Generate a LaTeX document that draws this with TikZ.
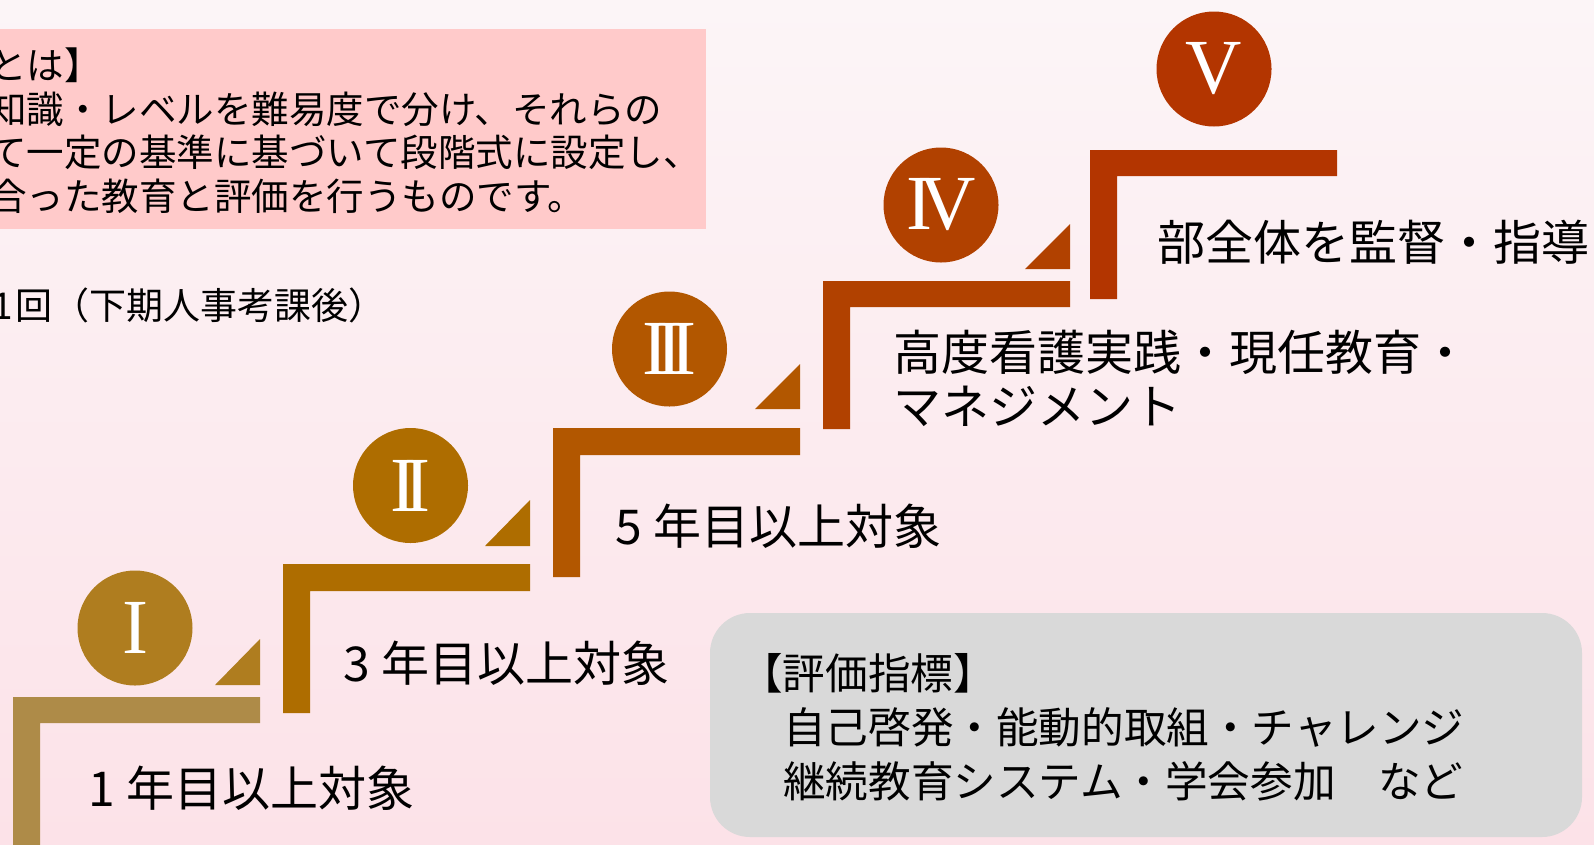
\documentclass[tikz,border=0pt]{standalone}
\usepackage{fontspec}
\setmainfont{Liberation Serif}
\newfontfamily\jpfont{Noto Sans CJK JP}
\usetikzlibrary{positioning,shapes}

\definecolor{bgtop}{HTML}{FCF5F7}
\definecolor{bgbot}{HTML}{FCE2E8}
\definecolor{noteback}{HTML}{FFCACA}
\definecolor{gradeback}{HTML}{D9D9D9}
\definecolor{lvlonebar}{HTML}{AE8B48}
\definecolor{lvlone}{HTML}{AF7D1F}
\definecolor{lvltwo}{HTML}{AE6D00}
\definecolor{lvlthree}{HTML}{B25700}
\definecolor{lvlfour}{HTML}{B14100}
\definecolor{lvlfive}{HTML}{B33500}

\begin{document}
\begin{tikzpicture}[x=1pt,y=-1pt,
  lvlmark/.style={circle,fill=#1,text=white,minimum size=115pt,inner sep=0pt,
    font=\fontsize{78}{80}\selectfont},
  steptext/.style={anchor=west,inner sep=0pt,align=left,
    font=\jpfont\fontsize{48}{54}\selectfont}]
\useasboundingbox (0,0) rectangle (1594,844);
\shade[top color=bgtop,bottom color=bgbot] (0,0) rectangle (1594,844);

% note at top left
\fill[noteback] (-5,29) rectangle (706,229);
\node (about) [anchor=west,inner sep=0pt,align=left,
  font=\jpfont\fontsize{37.5}{43.5}\selectfont] at (-11,130.5)
  {とは】\\知識・レベルを難易度で分け、それらの\\て一定の基準に基づいて段階式に設定し、\\合った教育と評価を行うものです。};
\node (when) [anchor=west,inner sep=0pt,font=\jpfont\fontsize{37}{43}\selectfont]
  at (-8,305) {1\kern3pt 回（下期人事考課後）};

% step I
\fill[lvlonebar] (13,697) -- (260,697) -- (260,723) -- (40,723) -- (40,850) -- (13,850) -- cycle;
\fill[lvlone] (215,685) -- (260,685) -- (260,639) -- cycle;
\node (one) [lvlmark=lvlone] at (135,628) {I};
\node (t1) [steptext] at (88,788) {1\kern.25em 年目以上対象};

% step II
\fill[lvltwo] (283,564) -- (530,564) -- (530,591) -- (310,591) -- (310,713) -- (283,713) -- cycle;
\fill[lvltwo] (485,546) -- (530,546) -- (530,500) -- cycle;
\node (two) [lvlmark=lvltwo] at (410.5,485.5) {I\kern-.15em I};
\node (t2) [steptext] at (343,663) {3\kern.25em 年目以上対象};

% step III
\fill[lvlthree] (553,428) -- (800,428) -- (800,455) -- (580,455) -- (580,577) -- (553,577) -- cycle;
\fill[lvlthree] (755,409) -- (800,409) -- (800,364) -- cycle;
\node (three) [lvlmark=lvlthree] at (669.5,349) {I\kern-.15em I\kern-.15em I};
\node (t3) [steptext] at (615,526) {5\kern.25em 年目以上対象};

% step IV
\fill[lvlfour] (823,281) -- (1070,281) -- (1070,307) -- (850,307) -- (850,429) -- (823,429) -- cycle;
\fill[lvlfour] (1025,269) -- (1070,269) -- (1070,224) -- cycle;
\node (four) [lvlmark=lvlfour] at (941,205) {I\kern-.17em V};
\node (t4) [steptext] at (893,378) {高度看護実践・現任教育・\\マネジメント};

% step V
\fill[lvlfive] (1090,150) -- (1337,150) -- (1337,176) -- (1117,176) -- (1117,299) -- (1090,299) -- cycle;
\node (five) [lvlmark=lvlfive] at (1214,69) {V};
\node (t5) [steptext] at (1157,242) {部全体を監督・指導};

% grading box
\fill[gradeback,rounded corners=40pt] (710,613) rectangle (1582,837);
\node (grade) [anchor=west,inner sep=0pt,align=left,
  font=\jpfont\fontsize{42.6}{54}\selectfont] at (740,727)
  {【評価指標】\\\hspace*{43pt}自己啓発・能動的取組・チャレンジ\\\hspace*{43pt}継続教育システム・学会参加　など};
\end{tikzpicture}
\end{document}
